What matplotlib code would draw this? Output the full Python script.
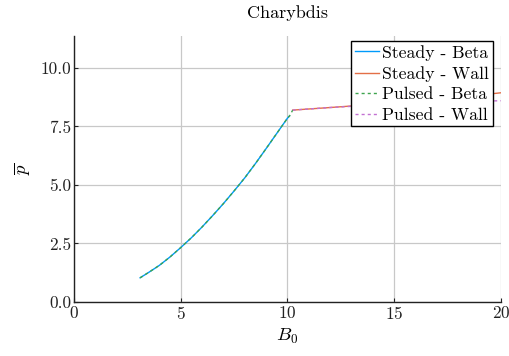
import numpy as np
import matplotlib
matplotlib.use("Agg")
import matplotlib.pyplot as plt

# values
b_beta = [3.1, 3.5, 4.0, 4.5, 5.0, 5.5, 6.0, 6.5, 7.0, 7.5, 8.0, 8.5, 9.0, 9.5, 10.0, 10.1]
p_beta = [1.03, 1.26, 1.56, 1.92, 2.32, 2.74, 3.2, 3.69, 4.2, 4.74, 5.3, 5.91, 6.55, 7.2, 7.85, 7.95]

b_pulsed_beta = b_beta + [10.25]
p_pulsed_beta = p_beta + [8.2]

b_wall = [10.25, 12.0, 14.0, 16.0, 18.0, 20.0]
p_steady_wall = [8.2, 8.31, 8.44, 8.58, 8.74, 8.94]
p_pulsed_wall = [8.2, 8.31, 8.41, 8.49, 8.56, 8.6]

plt.rcParams['font.family'] = 'cmr10'
plt.rcParams['mathtext.fontset'] = 'cm'
plt.rcParams['axes.formatter.use_mathtext'] = True

fig = plt.figure(figsize=(5.1, 3.56), dpi=100)
ax = fig.add_axes([0.145, 0.152, 0.837, 0.747])

ax.plot(b_beta, p_beta, color='#009AFA', lw=1.0, label='Steady - Beta')
ax.plot(b_wall, p_steady_wall, color='#E36F47', lw=1.0, label='Steady - Wall')
ax.plot(b_pulsed_beta, p_pulsed_beta, color='#3EA44E', lw=1.0, ls=(0, (2.2, 2.2)), label='Pulsed - Beta')
ax.plot(b_wall, p_pulsed_wall, color='#C371D2', lw=1.0, ls=(0, (2.2, 2.2)), label='Pulsed - Wall')

ax.set_xlim(0, 20)
ax.set_ylim(0, 11.37)
ax.set_xticks([0, 5, 10, 15, 20])
ax.set_yticks([0, 2.5, 5.0, 7.5, 10.0])
ax.set_yticklabels(['0.0', '2.5', '5.0', '7.5', '10.0'])
ax.grid(True, color='#c8c8c8', lw=0.9)
ax.set_axisbelow(True)
for s in ['top', 'right']:
    ax.spines[s].set_visible(False)
for s in ['left', 'bottom']:
    ax.spines[s].set_color('#222222')
    ax.spines[s].set_linewidth(1.0)
ax.tick_params(direction='in', length=3, labelsize=12.5, colors='#222222', pad=2)

ax.set_title('Charybdis', fontsize=13, pad=13)
ax.set_xlabel('$B_0$', fontsize=13.5, labelpad=4)
ax.set_ylabel(r'$\overline{p}$', fontsize=13.5, labelpad=6)

leg = ax.legend(loc='upper right', fontsize=12.7, fancybox=False, framealpha=1,
                edgecolor='black', borderpad=0.2, handlelength=1.4, handletextpad=0.15,
                labelspacing=0.3, borderaxespad=0.3, bbox_to_anchor=(0.993, 1.0))
leg.get_frame().set_linewidth(1.0)

fig.savefig('out.png', dpi=100)
